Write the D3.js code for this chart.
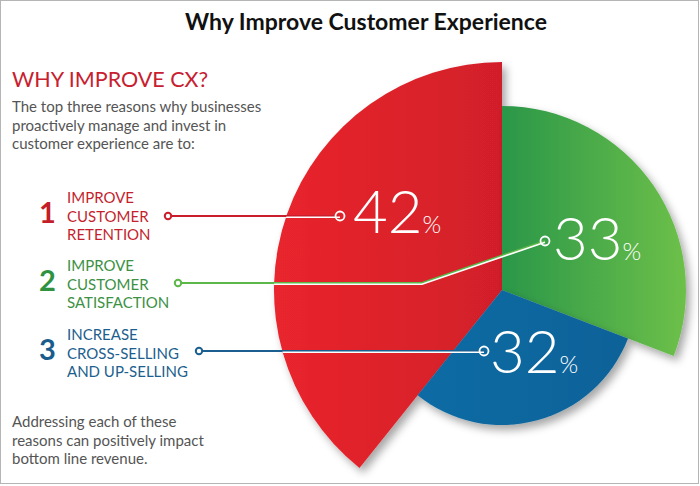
<!DOCTYPE html>
<html>
<head>
<meta charset="utf-8">
<script src="https://cdn.jsdelivr.net/npm/d3@7"></script>
<style>
  body { margin: 0; background: #fff; }
  svg { display: block; }
  text { font-family: Lato, "Open Sans", sans-serif; }
</style>
</head>
<body>
<div id="chart"></div>
<script>
// data
var keys = ["retention", "satisfaction", "crosssell"];
var values = [42, 33, 32];
var reasonLines = [
  ["IMPROVE", "CUSTOMER", "RETENTION"],
  ["IMPROVE", "CUSTOMER", "SATISFACTION"],
  ["INCREASE", "CROSS-SELLING", "AND UP-SELLING"]
];
var introLines = [
  "The top three reasons why businesses",
  "proactively manage and invest in",
  "customer experience are to:"
];
var footLines = [
  "Addressing each of these",
  "reasons can positively impact",
  "bottom line revenue."
];

var width = 700, height = 486;
var cx = 502, cy = 290;

var svg = d3.select("#chart").append("svg")
  .attr("width", width)
  .attr("height", height);

var defs = svg.append("defs");

var shadow = defs.append("filter").attr("id", "shadow")
  .attr("x", "-20%").attr("y", "-20%").attr("width", "140%").attr("height", "140%");
shadow.append("feDropShadow")
  .attr("dx", 4).attr("dy", 5).attr("stdDeviation", 4)
  .attr("flood-color", "#000").attr("flood-opacity", 0.35);

// slice gradients, left to right
var gradStops = {
  retention: ["#e9252d", "#d21f29"],
  satisfaction: ["#2a9748", "#6dc04a"],
  crosssell: ["#0c6ba4", "#0a6298"]
};
keys.forEach(function(k) {
  var g = defs.append("linearGradient").attr("id", "grad-" + k)
    .attr("x1", "0%").attr("x2", "100%").attr("y1", "0%").attr("y2", "0%");
  g.append("stop").attr("offset", "0%").attr("stop-color", gradStops[k][0]);
  g.append("stop").attr("offset", "100%").attr("stop-color", gradStops[k][1]);
});

var lineColor = d3.scaleOrdinal().domain(keys).range(["#c91f2c", "#5cb848", "#1b5f91"]);
var textColor = d3.scaleOrdinal().domain(keys).range(["#c41f2e", "#3c9144", "#1d5f8e"]);
var numColor = d3.scaleOrdinal().domain(keys).range(["#c41e2a", "#2f9240", "#1a5c8c"]);
var outer = d3.scaleOrdinal().domain(keys).range([228, 184, 135]);

var total = d3.sum(values);
var start = -values[0] / total * 2 * Math.PI;
var pie = d3.pie().sort(null).value(function(d) { return d; })
  .startAngle(start).endAngle(start + 2 * Math.PI);
var arcs = pie(values);
arcs.forEach(function(a, i) { a.key = keys[i]; });

var arc = d3.arc()
  .innerRadius(0)
  .outerRadius(function(d) { return outer(d.key); });

// border
svg.append("rect")
  .attr("x", 0.5).attr("y", 0.5)
  .attr("width", 698).attr("height", 483)
  .attr("fill", "none").attr("stroke", "#b5b5b5");

// title
svg.append("text")
  .attr("x", 366).attr("y", 30)
  .attr("text-anchor", "middle")
  .attr("font-size", 23).attr("font-weight", 700)
  .attr("fill", "#111")
  .text("Why Improve Customer Experience");

svg.append("text")
  .attr("x", 12).attr("y", 87)
  .attr("font-size", 21.5).attr("font-weight", 400)
  .attr("fill", "#c8202f")
  .text("WHY IMPROVE CX?");

svg.append("g").selectAll("text")
  .data(introLines).enter().append("text")
  .attr("x", 12)
  .attr("y", function(d, i) { return 112 + i * 18.7; })
  .attr("font-size", 15).attr("fill", "#555")
  .text(function(d) { return d; });

svg.append("g").selectAll("text")
  .data(footLines).enter().append("text")
  .attr("x", 12)
  .attr("y", function(d, i) { return 427 + i * 18.5; })
  .attr("font-size", 15).attr("fill", "#555")
  .text(function(d) { return d; });

// the slices
var pieG = svg.append("g").attr("transform", "translate(" + cx + "," + cy + ")");
pieG.selectAll("path.slice")
  .data(arcs).enter().append("path")
  .attr("class", "slice")
  .attr("d", arc)
  .attr("fill", function(d) { return "url(#grad-" + d.key + ")"; })
  .attr("filter", "url(#shadow)");

// clip to slices for the white part of the leaders
var clip = defs.append("clipPath").attr("id", "sliceClip");
clip.selectAll("path").data(arcs).enter().append("path")
  .attr("transform", "translate(" + cx + "," + cy + ")")
  .attr("d", arc);

// layout of the reason list and leaders
var rowTop = [203, 271, 340];
var leaderStart = [[168, 216], [178, 283], [199, 351]];
var leaderBend = [null, [422, 283], null];
var leaderEnd = [[340, 216], [545, 241], [484, 351]];
var valueOffset = [[13, 17], [8, 19], [6, 22]];

var rows = svg.append("g").selectAll("g.row")
  .data(arcs).enter().append("g").attr("class", "row");

rows.append("text")
  .attr("x", 39)
  .attr("y", function(d, i) { return rowTop[i] + 20; })
  .attr("font-size", 29).attr("font-weight", 700)
  .attr("fill", function(d) { return numColor(d.key); })
  .text(function(d, i) { return i + 1; });

rows.each(function(d, i) {
  d3.select(this).selectAll("text.line")
    .data(reasonLines[i]).enter().append("text")
    .attr("class", "line")
    .attr("x", 67)
    .attr("y", function(t, j) { return rowTop[i] + j * 18.5; })
    .attr("font-size", 15)
    .attr("fill", textColor(d.key))
    .text(function(t) { return t; });
});

function leaderPts(i) {
  var p = [leaderStart[i]];
  if (leaderBend[i]) p.push(leaderBend[i]);
  p.push(leaderEnd[i]);
  return p;
}
var line = d3.line();

rows.append("path")
  .attr("d", function(d, i) { return line(leaderPts(i)); })
  .attr("fill", "none")
  .attr("stroke", function(d) { return lineColor(d.key); })
  .attr("stroke-width", 2.2);

rows.append("g").attr("clip-path", "url(#sliceClip)")
  .append("path")
  .attr("d", function(d, i) { return line(leaderPts(i)); })
  .attr("transform", "translate(0,1.2)")
  .attr("fill", "none")
  .attr("stroke", "#fff")
  .attr("stroke-width", 1.6);

rows.append("circle")
  .attr("cx", function(d, i) { return leaderStart[i][0]; })
  .attr("cy", function(d, i) { return leaderStart[i][1]; })
  .attr("r", 3.2)
  .attr("fill", "#fff")
  .attr("stroke", function(d) { return lineColor(d.key); })
  .attr("stroke-width", 2);

rows.append("circle")
  .attr("cx", function(d, i) { return leaderEnd[i][0]; })
  .attr("cy", function(d, i) { return leaderEnd[i][1]; })
  .attr("r", 4.5)
  .attr("fill", "none")
  .attr("stroke", "#fff")
  .attr("stroke-width", 1.8);

var vals = rows.append("text")
  .attr("x", function(d, i) { return leaderEnd[i][0] + valueOffset[i][0]; })
  .attr("y", function(d, i) { return leaderEnd[i][1] + valueOffset[i][1]; })
  .attr("fill", "#fff")
  .attr("font-weight", 300);
vals.append("tspan").attr("font-size", 60).text(function(d) { return d.data; });
vals.append("tspan").attr("font-size", 24).attr("dx", 0).text("%");
</script>
</body>
</html>
